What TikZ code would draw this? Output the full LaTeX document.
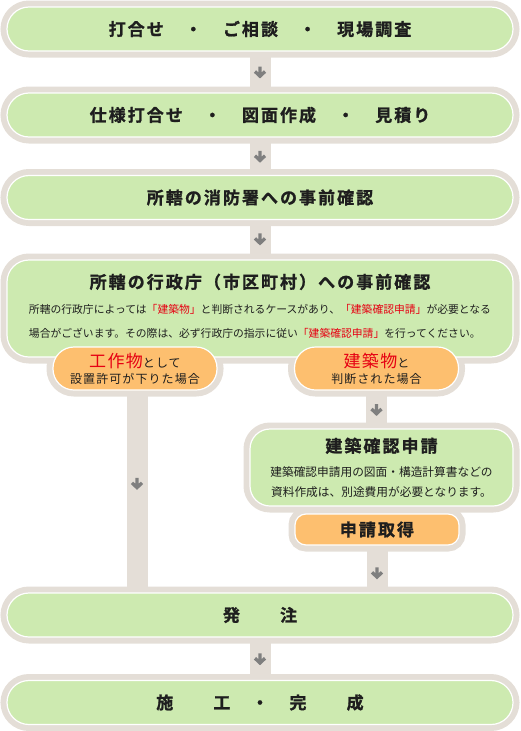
\documentclass[tikz,border=0pt]{standalone}
\usepackage{fontspec}
\setmainfont{Noto Sans CJK JP}
\newfontfamily\jpbold{Noto Sans CJK JP Bold}[FakeBold=1.2]
\usetikzlibrary{positioning,backgrounds}
\definecolor{ringgray}{HTML}{E4DED7}
\definecolor{boxgreen}{HTML}{CDEAB0}
\definecolor{pillorange}{HTML}{FDBF6F}
\definecolor{markgray}{HTML}{7F7F7F}
\definecolor{notered}{HTML}{E60012}
\definecolor{inktext}{HTML}{1E1E1E}
\newcommand{\ttl}{\jpbold\addfontfeature{LetterSpace=12}\fontsize{17}{20}\selectfont}
\newcommand{\hl}[1]{\textcolor{notered}{「#1」}}
\newcommand{\bigred}[1]{{\fontsize{17}{20}\selectfont\addfontfeature{LetterSpace=8}\textcolor{notered}{#1}}}
\newcommand{\pilltxt}{\fontsize{12}{16}\selectfont\addfontfeature{LetterSpace=9}}

\tikzset{
  stepbox/.style={draw=white,line width=1.2pt,fill=boxgreen,outer sep=0pt,inner sep=0pt,
    rounded corners=22pt,minimum width=506pt,minimum height=44pt,text=inktext,align=center},
  pillbox/.style={stepbox,fill=pillorange,minimum width=164pt,minimum height=43pt,rounded corners=21pt},
  band/.style={ringgray,line width=21pt},
  darr/.pic={\draw[markgray,line width=3.3pt] (0,-5.5) -- (0,3.5) (-5,-0.5) -- (0,4.2) -- (5,-0.5);}
}

\begin{document}
\begin{tikzpicture}[x=1pt,y=-1pt]
\useasboundingbox (0,0) rectangle (520,731);
\node[stepbox] (b1) at (260,29) {\ttl 打合せ　・　ご相談　・　現場調査};
\node[stepbox] (b2) at (260,115) {\ttl 仕様打合せ　・　図面作成　・　見積り};
\node[stepbox] (b3) at (260,197.5) {\ttl 所轄の消防署への事前確認};
\node[stepbox,minimum height=97pt,font=\fontsize{10.8}{18}\selectfont] (b4) at (260,308.5)
  {{\ttl 所轄の行政庁（市区町村）への事前確認}\\[7.5pt]
   \begin{tabular}[t]{@{}l@{}}
   所轄の行政庁によっては\hl{建築物}と判断されるケースがあり、\hl{建築確認申請}が必要となる\\[6pt]
   場合がございます。その際は、必ず行政庁の指示に従い\hl{建築確認申請}を行ってください。
   \end{tabular}};
\node[pillbox,font=\fontsize{12}{16}\selectfont] (kosaku) at (135,368.5)
  {\bigred{工作物}{\pilltxt として}\\{\pilltxt 設置許可が下りた場合}};
\node[pillbox,font=\fontsize{12}{16}\selectfont] (kenchiku) at (376.5,368.5)
  {\bigred{建築物}{\pilltxt と}\\{\pilltxt 判断された場合}};
\node[stepbox,minimum width=263pt,minimum height=77pt,rounded corners=20pt,
  font=\fontsize{11.7}{20}\selectfont] (kakunin) at (381.5,467.5)
  {{\ttl 建築確認申請}\\[4pt]
   建築確認申請用の図面・構造計算書などの\\
   資料作成は、別途費用が必要となります。};
\node[pillbox,minimum height=31pt,rounded corners=11pt] (shutoku) at (377,529.5) {\ttl 申請取得};
\node[stepbox] (hatchu) at (260,615) {\ttl 発　　注};
\node[stepbox] (seko) at (260,702.5) {\ttl 施　　工　・　完　　成};

\begin{scope}[on background layer]
\foreach \n/\r in {b1/22,b2/22,b3/22,b4/22,kosaku/21,kenchiku/21,kakunin/20,shutoku/11,hatchu/22,seko/22}
  \draw[ringgray,line width=13pt,rounded corners=\r pt] (\n.north west) rectangle (\n.south east);
\draw[band] (b1.south) -- pic[pos=.5]{darr} (b2.north);
\draw[band] (b2.south) -- pic[pos=.5]{darr} (b3.north);
\draw[band] (b3.south) -- pic[pos=.48]{darr} (b4.north);
\draw[band] ([xshift=2pt]kosaku.south) -- pic[pos=.46]{darr} ([xshift=2pt]kosaku.south |- hatchu.north);
\draw[band] (kenchiku.south) -- pic[pos=.5]{darr} (kenchiku.south |- kakunin.north);
\draw[band] (shutoku.south) -- pic[pos=.58]{darr} (shutoku.south |- hatchu.north);
\draw[band] (hatchu.south) -- pic[pos=.5]{darr} (seko.north);
\end{scope}
\end{tikzpicture}
\end{document}
